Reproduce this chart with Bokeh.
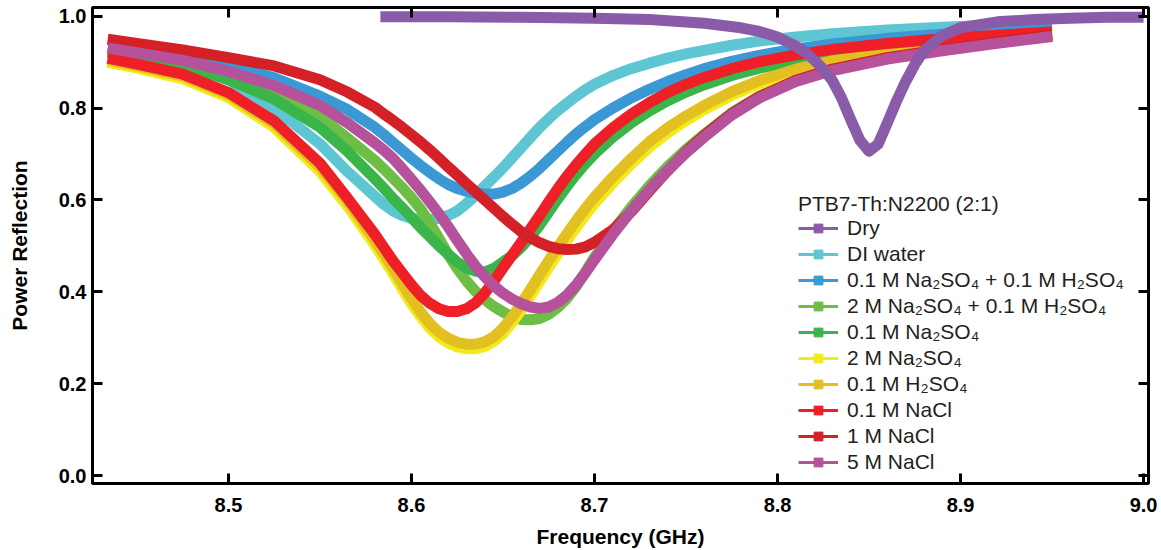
from bokeh.plotting import figure
from bokeh.models import Range1d, LinearAxis, FixedTicker, PrintfTickFormatter, Legend, LegendItem
from bokeh.embed import file_html
from bokeh.resources import INLINE

# ---------------- data ----------------
freq = [8.434, 8.45, 8.475, 8.5, 8.525, 8.55, 8.565,
        8.58, 8.585, 8.59, 8.595, 8.60, 8.605, 8.61, 8.615, 8.62, 8.625, 8.63, 8.635, 8.64, 8.645, 8.65,
        8.655, 8.66, 8.665, 8.67, 8.675, 8.68, 8.685, 8.69, 8.695, 8.70,
        8.71, 8.72, 8.73, 8.74, 8.75, 8.76, 8.775, 8.79, 8.81, 8.83, 8.86, 8.89, 8.92, 8.95]

di_water = [0.922, 0.915, 0.895, 0.862, 0.800, 0.722, 0.662,
            0.608, 0.590, 0.576, 0.566, 0.560, 0.557, 0.557, 0.560, 0.566, 0.576, 0.592, 0.610, 0.630, 0.650, 0.670,
            0.692, 0.714, 0.736, 0.758, 0.777, 0.795, 0.811, 0.826, 0.840, 0.852,
            0.871, 0.886, 0.898, 0.909, 0.918, 0.926, 0.937, 0.946, 0.955, 0.962, 0.970, 0.976, 0.981, 0.985]
na2so4_01_h2so4 = [0.928, 0.921, 0.910, 0.893, 0.866, 0.826, 0.797,
                   0.758, 0.742, 0.725, 0.708, 0.691, 0.675, 0.660, 0.646, 0.634, 0.625, 0.619, 0.615, 0.613, 0.613, 0.617,
                   0.625, 0.637, 0.652, 0.669, 0.688, 0.707, 0.726, 0.744, 0.760, 0.775,
                   0.800, 0.822, 0.841, 0.858, 0.873, 0.886, 0.902, 0.915, 0.929, 0.940, 0.952, 0.961, 0.968, 0.974]
na2so4_2_h2so4 = [0.922, 0.915, 0.900, 0.876, 0.840, 0.782, 0.735,
                  0.686, 0.667, 0.647, 0.627, 0.605, 0.580, 0.550, 0.516, 0.482, 0.451, 0.424, 0.401, 0.383, 0.368, 0.356,
                  0.346, 0.340, 0.339, 0.342, 0.351, 0.366, 0.386, 0.412, 0.443, 0.475,
                  0.532, 0.584, 0.631, 0.673, 0.710, 0.743, 0.790, 0.826, 0.861, 0.885, 0.909, 0.927, 0.943, 0.957]
na2so4_01 = [0.922, 0.914, 0.896, 0.862, 0.820, 0.758, 0.706,
             0.646, 0.625, 0.603, 0.583, 0.562, 0.540, 0.520, 0.500, 0.482, 0.465, 0.452, 0.445, 0.443, 0.451, 0.465,
             0.479, 0.497, 0.520, 0.545, 0.574, 0.603, 0.630, 0.656, 0.679, 0.700,
             0.737, 0.768, 0.794, 0.816, 0.835, 0.851, 0.871, 0.887, 0.903, 0.916, 0.930, 0.941, 0.950, 0.958]
na2so4_2 = [0.900, 0.887, 0.864, 0.823, 0.758, 0.662, 0.587,
            0.501, 0.471, 0.439, 0.406, 0.374, 0.346, 0.321, 0.302, 0.289, 0.280, 0.276, 0.276, 0.281, 0.292, 0.309,
            0.333, 0.361, 0.391, 0.422, 0.453, 0.483, 0.512, 0.540, 0.567, 0.592,
            0.637, 0.678, 0.715, 0.746, 0.773, 0.797, 0.828, 0.853, 0.879, 0.898, 0.918, 0.933, 0.946, 0.957]
h2so4_01 = [0.905, 0.892, 0.870, 0.829, 0.766, 0.672, 0.597,
            0.512, 0.482, 0.450, 0.417, 0.385, 0.356, 0.331, 0.312, 0.299, 0.290, 0.286, 0.286, 0.291, 0.302, 0.321,
            0.345, 0.374, 0.405, 0.437, 0.468, 0.498, 0.527, 0.555, 0.581, 0.606,
            0.650, 0.690, 0.727, 0.757, 0.783, 0.806, 0.836, 0.860, 0.885, 0.903, 0.922, 0.937, 0.950, 0.961]
nacl_01 = [0.909, 0.896, 0.874, 0.834, 0.772, 0.680, 0.604,
           0.525, 0.496, 0.467, 0.441, 0.415, 0.392, 0.375, 0.363, 0.357, 0.357, 0.363, 0.376, 0.397, 0.423, 0.452,
           0.480, 0.508, 0.537, 0.566, 0.596, 0.625, 0.652, 0.677, 0.700, 0.722,
           0.757, 0.787, 0.812, 0.834, 0.852, 0.867, 0.886, 0.901, 0.916, 0.928, 0.941, 0.951, 0.959, 0.966]
nacl_1 = [0.950, 0.941, 0.927, 0.910, 0.892, 0.862, 0.835,
          0.802, 0.787, 0.773, 0.758, 0.742, 0.726, 0.709, 0.691, 0.672, 0.654, 0.636, 0.618, 0.600, 0.582, 0.564,
          0.547, 0.531, 0.518, 0.507, 0.499, 0.494, 0.492, 0.493, 0.498, 0.508,
          0.535, 0.574, 0.620, 0.664, 0.705, 0.741, 0.788, 0.825, 0.861, 0.885, 0.910, 0.928, 0.944, 0.959]
nacl_5 = [0.931, 0.921, 0.904, 0.880, 0.849, 0.806, 0.768,
          0.724, 0.708, 0.690, 0.668, 0.645, 0.621, 0.596, 0.570, 0.542, 0.512, 0.483, 0.456, 0.433, 0.413, 0.397,
          0.384, 0.374, 0.367, 0.364, 0.367, 0.377, 0.393, 0.415, 0.441, 0.470,
          0.525, 0.576, 0.623, 0.665, 0.703, 0.737, 0.785, 0.822, 0.858, 0.882, 0.907, 0.925, 0.941, 0.956]

dry_freq = [8.583, 8.62, 8.66, 8.70, 8.73, 8.76, 8.78, 8.79, 8.80, 8.81, 8.815, 8.82, 8.825, 8.83, 8.835,
            8.84, 8.845, 8.85, 8.855, 8.86, 8.865, 8.87, 8.875, 8.88, 8.89, 8.90, 8.92, 8.94, 8.96, 8.98, 9.0]
dry = [0.999, 0.999, 0.998, 0.996, 0.993, 0.985, 0.975, 0.967, 0.955, 0.935, 0.922, 0.905, 0.885, 0.860, 0.822,
       0.775, 0.730, 0.706, 0.722, 0.768, 0.815, 0.858, 0.895, 0.925, 0.958, 0.975, 0.988, 0.993, 0.996, 0.998, 0.998]

x_ticks = [8.5, 8.6, 8.7, 8.8, 8.9, 9.0]
y_ticks = [0.0, 0.2, 0.4, 0.6, 0.8, 1.0]

legend_title = "PTB7-Th:N2200 (2:1)"
labels = ["Dry", "DI water", "0.1 M Na\u2082SO\u2084 + 0.1 M H\u2082SO\u2084", "2 M Na\u2082SO\u2084 + 0.1 M H\u2082SO\u2084",
          "0.1 M Na\u2082SO\u2084", "2 M Na\u2082SO\u2084", "0.1 M H\u2082SO\u2084", "0.1 M NaCl", "1 M NaCl", "5 M NaCl"]
colors = ["#8a5ba8", "#5ec6d3", "#3a99d4", "#6dbe45", "#3ab54a", "#f3ea1a", "#e3c021", "#ee1f26", "#d42027", "#b6519b"]

X_START, X_END = 8.4257, 9.0027
Y_START, Y_END = -0.0174, 1.0192

# ---------------- figure ----------------
FONT = "Liberation Sans"
p = figure(width=1161, height=550, x_range=Range1d(X_START, X_END), y_range=Range1d(Y_START, Y_END),
           output_backend="svg", toolbar_location=None,
           min_border_left=92, min_border_right=13, min_border_top=7, min_border_bottom=67)
p.grid.visible = False
p.outline_line_color = "black"
p.outline_line_width = 3
p.background_fill_color = "white"
p.border_fill_color = "white"

def style_axis(ax, show_labels):
    ax.major_tick_in = 10
    ax.major_tick_out = 0
    ax.major_tick_line_width = 3
    ax.major_tick_line_color = "black"
    ax.minor_tick_line_color = None
    ax.axis_line_width = 3
    ax.axis_line_color = "black"
    ax.major_label_text_font = FONT
    ax.major_label_text_font_style = "bold"
    if show_labels:
        ax.major_label_text_font_size = "20px"
        ax.major_label_text_color = "black"
    else:
        ax.major_label_text_font_size = "1px"
        ax.major_label_text_color = None
        ax.major_label_standoff = 0

p.xaxis.ticker = FixedTicker(ticks=x_ticks)
p.yaxis.ticker = FixedTicker(ticks=y_ticks)
p.xaxis.formatter = PrintfTickFormatter(format="%.1f")
p.yaxis.formatter = PrintfTickFormatter(format="%.1f")
style_axis(p.xaxis[0], True)
style_axis(p.yaxis[0], True)
p.xaxis.major_label_standoff = 14
p.yaxis.major_label_standoff = 6
p.xaxis.axis_label = "Frequency (GHz)"
p.yaxis.axis_label = "Power Reflection"
for ax in (p.xaxis[0], p.yaxis[0]):
    ax.axis_label_text_font = FONT
    ax.axis_label_text_font_style = "bold"
    ax.axis_label_text_font_size = "21px"
    ax.axis_label_text_color = "black"
p.xaxis.axis_label_standoff = 10
p.yaxis.axis_label_standoff = 25

top = LinearAxis(ticker=FixedTicker(ticks=x_ticks))
style_axis(top, False)
p.add_layout(top, "above")
right = LinearAxis(ticker=FixedTicker(ticks=y_ticks))
style_axis(right, False)
p.add_layout(right, "right")

# ---------------- curves ----------------
series = [di_water, na2so4_01_h2so4, na2so4_2_h2so4, na2so4_01, na2so4_2, h2so4_01, nacl_01, nacl_1, nacl_5]
LW = 11
for vals, col in zip(series, colors[1:]):
    p.line(freq, vals, line_color=col, line_width=LW, line_cap="butt", line_join="round")
p.line(dry_freq, dry, line_color=colors[0], line_width=LW, line_cap="butt", line_join="round")

# ---------------- legend (glyph-only renderers placed outside the visible range) ----------------
off_x = [X_START - 1.0]
off_y = [Y_START - 1.0]
items = []
for lab, col in zip(labels, colors):
    lr = p.line(x=off_x, y=off_y, line_color=col, line_width=3)
    sr = p.scatter(x=off_x, y=off_y, marker="square", size=12, fill_color=col, line_color=col)
    items.append(LegendItem(label=lab, renderers=[lr, sr]))

legend = Legend(items=items, location=(706, 9), title=legend_title)
legend.background_fill_alpha = 0
legend.border_line_alpha = 0
legend.padding = 0
legend.margin = 0
legend.glyph_width = 40
legend.glyph_height = 22
legend.label_height = 22
legend.label_standoff = 9
legend.spacing = 2
legend.label_text_font = FONT
legend.label_text_font_size = "21px"
legend.label_text_color = "#231f20"
legend.title_text_font = FONT
legend.title_text_font_size = "21px"
legend.title_text_font_style = "normal"
legend.title_text_color = "#231f20"
legend.title_standoff = 0
p.add_layout(legend)

open("out.html", "w").write(file_html(p, INLINE))
